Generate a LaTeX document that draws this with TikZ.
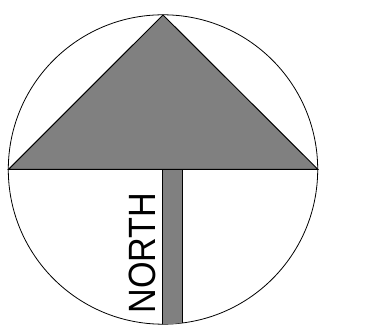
\documentclass[tikz,border=0pt]{standalone}
\usepackage{fontspec}
\setmainfont{Liberation Sans}
\begin{document}
\begin{tikzpicture}[x=1pt,y=-1pt,
  outline/.style={draw=black,line width=0.8pt},
  grayfill/.style={fill={rgb,255:red,128;green,128;blue,128}}]
\useasboundingbox (0,0) rectangle (365,328);
\fill[white] (0,0) rectangle (365,328);
\coordinate (c) at (163,169.5);
\draw[outline] (c) circle[radius=154.7];
\draw[grayfill,draw=black,line width=1pt,line join=miter] (163,15) -- (318,169.5) -- (8.3,169.5) -- cycle;
\begin{scope}
\clip (c) circle[radius=154.7];
\draw[grayfill,draw=black,line width=1.5pt] (162.5,169.5) rectangle (182.5,330);
\end{scope}
\node[rotate=90,inner sep=0pt] (lbl) at (142.5,253) {\fontsize{38}{38}\selectfont\scalebox{0.9}[1]{NORTH}};
\end{tikzpicture}
\end{document}
